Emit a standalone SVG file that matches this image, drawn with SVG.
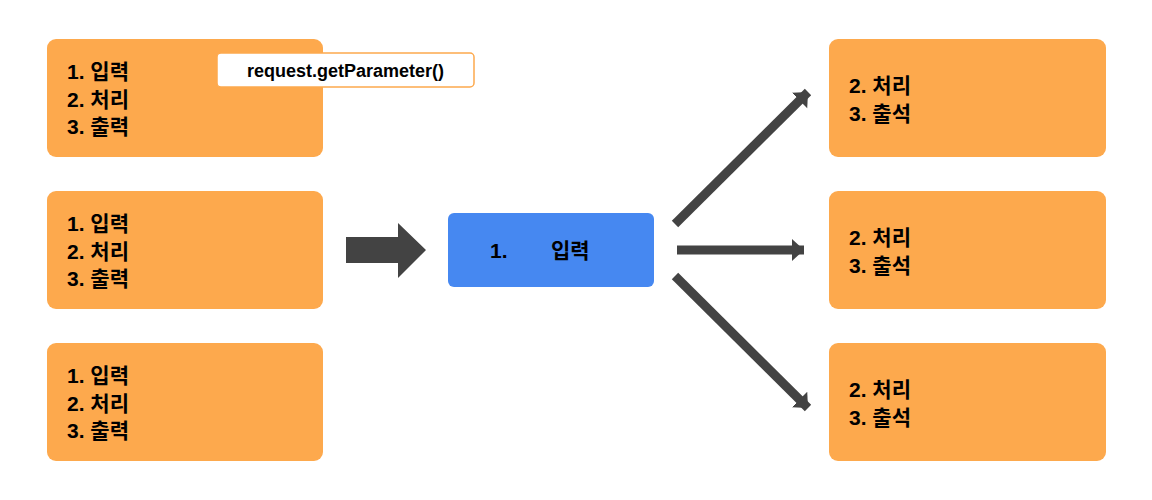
<svg xmlns="http://www.w3.org/2000/svg" width="1152" height="500" viewBox="0 0 1152 500">
<style>
.box{fill:#FDA94D}
.t{font-family:"Liberation Sans","Noto Sans CJK KR",sans-serif;font-weight:bold;font-size:21px;fill:#000}
.conn{stroke:#434343;stroke-width:9;fill:none}
</style>
<defs>
<marker id="ah" markerUnits="userSpaceOnUse" markerWidth="14" markerHeight="24" refX="12" refY="11" orient="auto">
<path d="M0,0 L12,11 L0,22 Z" fill="#434343"/>
</marker>
</defs>
<rect width="1152" height="500" fill="#fff"/>
<g id="left1"><rect class="box" x="47" y="39" width="276" height="118" rx="9"/>
<text class="t" x="67" y="79">1. 입력</text><text class="t" x="67" y="107">2. 처리</text><text class="t" x="67" y="134">3. 출력</text></g>
<g id="left2"><rect class="box" x="47" y="191" width="276" height="118" rx="9"/>
<text class="t" x="67" y="231">1. 입력</text><text class="t" x="67" y="259">2. 처리</text><text class="t" x="67" y="286">3. 출력</text></g>
<g id="left3"><rect class="box" x="47" y="343" width="276" height="118" rx="9"/>
<text class="t" x="67" y="383">1. 입력</text><text class="t" x="67" y="411">2. 처리</text><text class="t" x="67" y="438">3. 출력</text></g>
<g id="note"><rect x="217" y="53" width="257" height="34" rx="4" fill="#fff" stroke="#FDA94D" stroke-width="1.5"/>
<text class="t" x="345.5" y="77" text-anchor="middle" style="font-size:18px">request.getParameter()</text></g>
<g id="center"><rect x="448" y="213" width="206" height="74" rx="6" fill="#4688F1"/>
<text class="t" x="490" y="258">1.</text><text class="t" x="551" y="258">입력</text></g>
<g id="right1"><rect class="box" x="829" y="39" width="277" height="118" rx="9"/>
<text class="t" x="849" y="93">2. 처리</text><text class="t" x="849" y="121">3. 출석</text></g>
<g id="right2"><rect class="box" x="829" y="191" width="277" height="118" rx="9"/>
<text class="t" x="849" y="245">2. 처리</text><text class="t" x="849" y="273">3. 출석</text></g>
<g id="right3"><rect class="box" x="829" y="343" width="277" height="118" rx="9"/>
<text class="t" x="849" y="397">2. 처리</text><text class="t" x="849" y="425">3. 출석</text></g>
<g id="connectors">
<polygon points="346,237 398,237 398,223 426,250 398,278 398,263 346,263" fill="#434343"/>
<line class="conn" x1="675" y1="224" x2="808" y2="92" marker-end="url(#ah)"/>
<line class="conn" x1="677" y1="250" x2="804" y2="250" stroke-width="10" marker-end="url(#ah)"/>
<line class="conn" x1="675" y1="276" x2="808" y2="408" marker-end="url(#ah)"/>
</g>
</svg>
